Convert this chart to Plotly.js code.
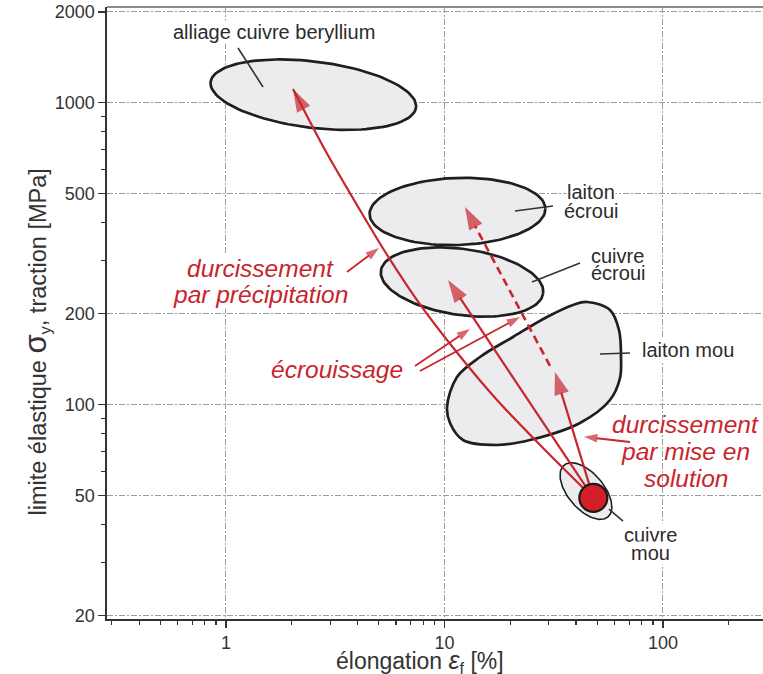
<!DOCTYPE html>
<html>
<head>
<meta charset="utf-8">
<script src="https://cdn.plot.ly/plotly-3.0.1.min.js"></script>
<style>html,body{margin:0;padding:0;background:#fff;}</style>
</head>
<body>
<div id="chart" style="width:763px;height:674px;"></div>
<script>
// ---------------- data ----------------
// axes
const xTickVals = [1, 10, 100];
const xTickText = ['1', '10', '100'];
const xMinorVals = [0.3, 0.4, 0.5, 0.6, 0.7, 0.8, 0.9, 2, 3, 4, 5, 6, 7, 8, 9, 20, 30, 40, 50, 60, 70, 80, 90, 200];
const yTickVals = [20, 50, 100, 200, 500, 1000, 2000];
const yTickText = ['20', '50', '100', '200', '500', '1000', '2000'];
const yMinorVals = [30, 40, 60, 70, 80, 90, 300, 400, 600, 700, 800, 900];

// material domains (ellipses): centre, end of 1st semi-axis, end of 2nd semi-axis  [elongation %, yield MPa]
const ellipseNames   = ['alliage cuivre beryllium', 'laiton écroui', 'cuivre écroui', 'cuivre mou'];
const ellipseCenterX = [2.51, 11.47, 12.03, 44.4];
const ellipseCenterY = [1063, 436, 254.5, 51.6];
const ellipseAxis1X  = [7.41, 28.97, 28.29, 55.96];
const ellipseAxis1Y  = [965, 446, 233.3, 42.35];
const ellipseAxis2X  = [2.41, 11.61, 11.46, 38.41];
const ellipseAxis2Y  = [827, 337.6, 198.3, 47.26];

// laiton mou domain outline
const laitonMouX = [17.39, 12.15, 10.60, 10.27, 11.41, 14.54, 20.58, 29.45, 38.73, 44.89, 57.21, 62.89, 64.24, 63.57, 57.21, 41.70, 24.62, 17.39];
const laitonMouY = [73.35, 76.21, 86.78, 98.0, 123.3, 143.6, 167.3, 194.8, 213.6, 218.5, 205.5, 176.4, 143.6, 122.3, 103.4, 86.78, 76.21, 73.35];

// cuivre mou (starting point)
const cuivreMouX = [48];
const cuivreMouY = [49];

// arrows (tail ... head)
const arrowBerylliumX = [48, 28.84, 17.39, 11.17, 7.483, 5.286, 3.853, 2.839, 2.026];
const arrowBerylliumY = [49, 70.63, 103.4, 151.5, 221.8, 324.9, 476, 697, 1110];
const arrowCuivreEcrouiX = [48, 10.38];
const arrowCuivreEcrouiY = [49, 258.4];
const arrowLaitonMouX = [48, 32.04];
const arrowLaitonMouY = [49, 128.1];
const arrowLaitonEcrouiX = [30.4, 12.41];
const arrowLaitonEcrouiY = [134.1, 451.2];
const arrowPrecipX = [3.579, 5.013];
const arrowPrecipY = [274.7, 329.9];
const arrowEcrou1X = [7.328, 13.08];
const arrowEcrou1Y = [134.1, 177.8];
const arrowEcrou2X = [7.725, 22.16];
const arrowEcrou2Y = [129.0, 194.8];
const arrowSolutionX = [70.63, 43.5];
const arrowSolutionY = [75.06, 78.07];

// leader lines from labels
const leaderX = [[1.135, 1.477], [21.02, 31.37], [25.15, 41.70], [51.48, 70.63], [56.6, 65.6]];
const leaderY = [[1518, 1127], [437.5, 454.6], [254.5, 294.2], [146.9, 148.0], [45.0, 41.06]];

// material labels
const labelText = ['alliage cuivre beryllium', 'laiton', 'écroui', 'cuivre', 'écroui', 'laiton mou', 'cuivre', 'mou'];
const labelX = [1.658, 46.83, 46.83, 62.23, 62.23, 130.1, 87.2, 87.2];
const labelY = [1709, 505.8, 437.5, 311.5, 271.6, 150.9, 36.78, 32.05];
const labelBg = [true, true, false, false, false, true, true, true];

// mechanism notes (red)
const noteText = ['durcissement', 'par précipitation', 'écrouissage', 'durcissement', 'par mise en', 'solution'];
const noteX = [1.446, 1.446, 3.221, 127.4, 127.4, 127.4];
const noteY = [283.2, 230.5, 131.0, 86.1, 69.55, 56.63];
const noteBg = [true, true, false, false, false, false];

// ---------------- drawing ----------------
const RED = '#c8252c';
const INK = '#1f1f1f';
const FILL = '#ececef';
const FONT = 'Liberation Sans, Arial, Helvetica, sans-serif';

function ellipse(i, n) {
  const cx = Math.log10(ellipseCenterX[i]), cy = Math.log10(ellipseCenterY[i]);
  const ux = Math.log10(ellipseAxis1X[i]) - cx, uy = Math.log10(ellipseAxis1Y[i]) - cy;
  const vx = Math.log10(ellipseAxis2X[i]) - cx, vy = Math.log10(ellipseAxis2Y[i]) - cy;
  const xs = [], ys = [];
  for (let k = 0; k <= n; k++) {
    const t = 2 * Math.PI * k / n;
    xs.push(Math.pow(10, cx + ux * Math.cos(t) + vx * Math.sin(t)));
    ys.push(Math.pow(10, cy + uy * Math.cos(t) + vy * Math.sin(t)));
  }
  return {xs, ys};
}

const traces = [];
ellipseNames.forEach((nm, i) => {
  const e = ellipse(i, 120);
  traces.push({
    x: e.xs, y: e.ys, type: 'scatter', mode: 'lines', name: nm,
    fill: 'toself', fillcolor: FILL,
    line: {color: INK, width: nm === 'cuivre mou' ? 1.6 : 2.7},
    hoverinfo: 'skip', showlegend: false
  });
});
traces.push({
  x: laitonMouX, y: laitonMouY, type: 'scatter', mode: 'lines', name: 'laiton mou',
  fill: 'toself', fillcolor: FILL,
  line: {color: INK, width: 2.7, shape: 'spline', smoothing: 1},
  hoverinfo: 'skip', showlegend: false
});
leaderX.forEach((lx, i) => {
  traces.push({
    x: lx, y: leaderY[i], type: 'scatter', mode: 'lines',
    line: {color: '#333', width: 1.6}, hoverinfo: 'skip', showlegend: false
  });
});

function arrow(xs, ys, opts) {
  const sizes = xs.map((v, k) => k === xs.length - 1 ? opts.head : 0);
  return {
    x: xs, y: ys, type: 'scatter', mode: 'lines+markers',
    line: {color: RED, width: opts.width, dash: opts.dash || 'solid',
           shape: opts.spline ? 'spline' : 'linear', smoothing: 0.8},
    marker: {symbol: 'arrow', angleref: 'previous', size: sizes, color: RED, line: {width: 0}},
    hoverinfo: 'skip', showlegend: false
  };
}
traces.push(arrow(arrowBerylliumX, arrowBerylliumY, {width: 2.2, head: 24, spline: true}));
traces.push(arrow(arrowCuivreEcrouiX, arrowCuivreEcrouiY, {width: 2.2, head: 24}));
traces.push(arrow(arrowLaitonMouX, arrowLaitonMouY, {width: 2.2, head: 24}));
traces.push(arrow(arrowLaitonEcrouiX, arrowLaitonEcrouiY, {width: 2.6, head: 24, dash: '8px,5px'}));
traces.push(arrow(arrowPrecipX, arrowPrecipY, {width: 1.8, head: 14}));
traces.push(arrow(arrowEcrou1X, arrowEcrou1Y, {width: 1.8, head: 14}));
traces.push(arrow(arrowEcrou2X, arrowEcrou2Y, {width: 1.8, head: 14}));
traces.push(arrow(arrowSolutionX, arrowSolutionY, {width: 1.8, head: 14}));

traces.push({
  x: cuivreMouX, y: cuivreMouY, type: 'scatter', mode: 'markers',
  marker: {size: 28, color: '#d21f27', line: {color: '#1a1a1a', width: 2.2}},
  hoverinfo: 'skip', showlegend: false
});

const annotations = [];
labelText.forEach((t, i) => {
  const a = {
    x: Math.log10(labelX[i]), y: Math.log10(labelY[i]), xref: 'x', yref: 'y',
    text: t, showarrow: false, xanchor: 'center', yanchor: 'middle',
    font: {family: FONT, size: 20, color: '#2b2b2b'}, borderpad: 0
  };
  if (labelBg[i]) a.bgcolor = '#ffffff';
  annotations.push(a);
});
noteText.forEach((t, i) => {
  const a = {
    x: Math.log10(noteX[i]), y: Math.log10(noteY[i]), xref: 'x', yref: 'y',
    text: '<i>' + t + '</i>', showarrow: false, xanchor: 'center', yanchor: 'middle',
    font: {family: FONT, size: 24.5, color: RED}, borderpad: 0
  };
  if (noteBg[i]) a.bgcolor = '#ffffff';
  annotations.push(a);
});
// axis titles
annotations.push({
  xref: 'paper', yref: 'paper', x: 0.477, y: -0.069, xanchor: 'center', yanchor: 'middle',
  text: 'élongation <i><span style="font-size:25px">ε</span></i><sub>f</sub> [%]',
  showarrow: false, font: {family: FONT, size: 23, color: '#333'}
});
annotations.push({
  xref: 'paper', yref: 'paper', x: -0.108, y: 0.452, xanchor: 'center', yanchor: 'middle',
  textangle: -90,
  text: 'limite élastique <span style="font-size:31px">σ</span><sub>y</sub>, traction [MPa]',
  showarrow: false, font: {family: FONT, size: 23.5, color: '#333'}
});

const gridStyle = {showgrid: true, gridcolor: '#9c9c9c', gridwidth: 1, griddash: '6px,2px,2px,2px'};
const layout = {
  width: 763, height: 674,
  margin: {l: 107, r: 0, t: 7, b: 55, pad: 0},
  paper_bgcolor: '#ffffff', plot_bgcolor: '#ffffff',
  showlegend: false,
  font: {family: FONT, color: '#333'},
  xaxis: Object.assign({
    type: 'log', range: [-0.5446, 2.4577], autorange: false,
    tickmode: 'array', tickvals: xTickVals, ticktext: xTickText,
    ticks: 'outside', ticklen: 7, tickwidth: 1.3, tickcolor: '#333',
    tickfont: {family: FONT, size: 18, color: '#333'},
    showline: true, linecolor: '#333', linewidth: 1.6, zeroline: false,
    minor: {tickmode: 'array', tickvals: xMinorVals, ticks: 'outside', ticklen: 4, tickwidth: 1.1, tickcolor: '#333', showgrid: false}
  }, gridStyle),
  yaxis: Object.assign({
    type: 'log', range: [1.2887, 3.3172], autorange: false,
    tickmode: 'array', tickvals: yTickVals, ticktext: yTickText,
    ticks: 'outside', ticklen: 7, tickwidth: 1.3, tickcolor: '#333',
    tickfont: {family: FONT, size: 18, color: '#333'},
    showline: true, linecolor: '#333', linewidth: 1.6, zeroline: false,
    minor: {tickmode: 'array', tickvals: yMinorVals, ticks: 'outside', ticklen: 4, tickwidth: 1.1, tickcolor: '#333', showgrid: false}
  }, gridStyle),
  shapes: [{type: 'line', xref: 'paper', yref: 'paper', x0: 0, x1: 1, y0: 1, y1: 1, line: {color: '#8a8a8a', width: 2.2}}],
  annotations: annotations
};

Plotly.newPlot('chart', traces, layout, {displayModeBar: false, staticPlot: true});
</script>
</body>
</html>
